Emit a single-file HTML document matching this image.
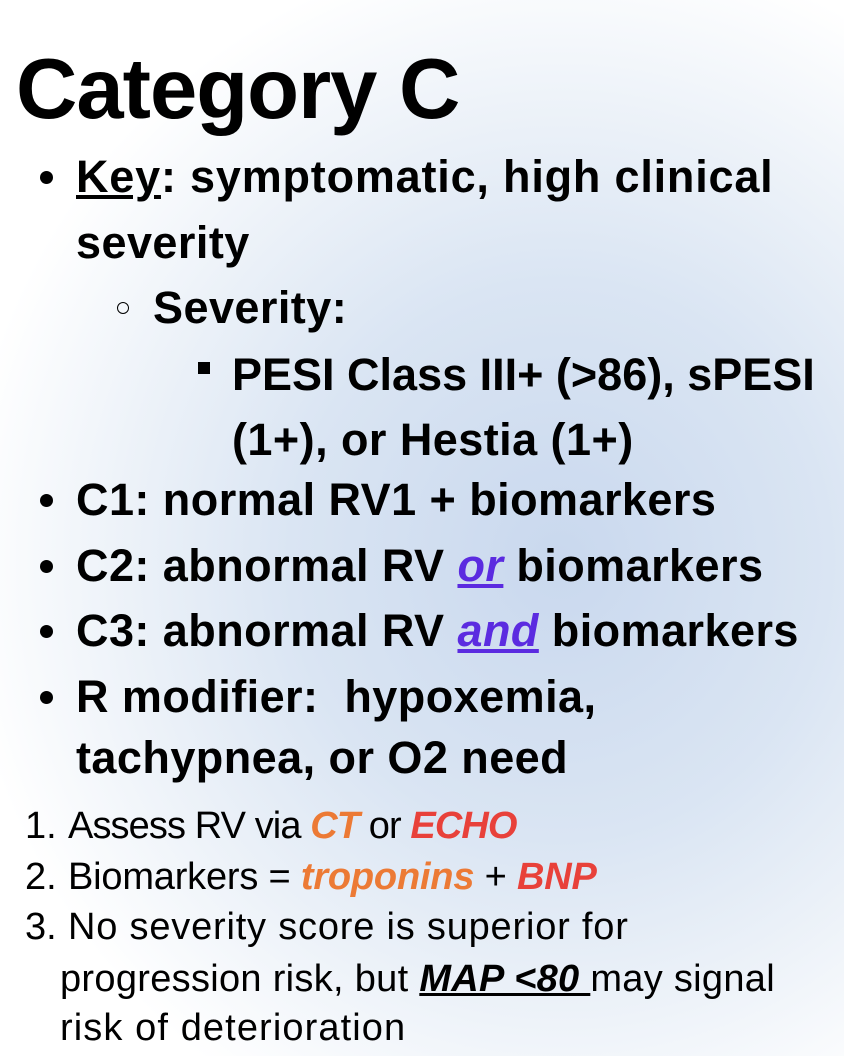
<!DOCTYPE html>
<html><head><meta charset="utf-8"><style>
html,body{margin:0;padding:0}
body{width:844px;height:1056px;overflow:hidden;position:relative;font-family:"Liberation Sans",sans-serif;color:#000;
background:radial-gradient(ellipse 600px 620px at 560px 560px,#c9d8ee 0%,#dae5f3 45%,#eef3f9 75%,#ffffff 100%);}
.l{position:absolute;white-space:nowrap;line-height:60px;height:60px}
.b{font-weight:bold;font-size:45px;letter-spacing:0.45px}
.dot{position:absolute;width:13px;height:13px;border-radius:50%;background:#000}
.n{position:absolute;white-space:nowrap;font-size:38px;line-height:44px}
.o{color:#ec7a35;font-weight:bold;font-style:italic}
.r{color:#e8413a;font-weight:bold;font-style:italic}
.p{color:#5b2be0;font-style:italic;text-decoration:underline}
</style></head><body>
<div class="l" style="left:16px;top:48px;height:84px;line-height:84px;font-size:85px;font-weight:bold;letter-spacing:-1px">Category C</div>

<div class="dot" style="left:40px;top:171px"></div>
<div class="l b" style="left:76px;top:147px;letter-spacing:0.8px"><u>Key</u>: symptomatic, high clinical</div>
<div class="l b" style="left:76px;top:213px">severity</div>
<div style="position:absolute;left:117px;top:302px;width:10px;height:10px;border:1.5px solid #000;border-radius:50%"></div>
<div class="l b" style="left:153px;top:278px">Severity:</div>
<div style="position:absolute;left:198px;top:362px;width:12px;height:12px;background:#000"></div>
<div class="l b" style="left:232px;top:345px;letter-spacing:0px">PESI Class III+ (&gt;86), sPESI</div>
<div class="l b" style="left:232px;top:410px">(1+), or Hestia (1+)</div>
<div class="dot" style="left:40px;top:494px"></div>
<div class="l b" style="left:76px;top:470px">C1: normal RV1 + biomarkers</div>
<div class="dot" style="left:40px;top:560px"></div>
<div class="l b" style="left:76px;top:536px">C2: abnormal RV <span class="p">or</span> biomarkers</div>
<div class="dot" style="left:40px;top:625px"></div>
<div class="l b" style="left:76px;top:601px">C3: abnormal RV <span class="p">and</span> biomarkers</div>
<div class="dot" style="left:40px;top:691px"></div>
<div class="l b" style="left:76px;top:667px">R modifier:&nbsp; hypoxemia,</div>
<div class="l b" style="left:76px;top:728px">tachypnea, or O2 need</div>

<div class="n" style="left:25px;top:804px">1.</div>
<div class="n" style="left:68px;top:804px;letter-spacing:-0.9px">Assess RV via <span class="o">CT</span> or <span class="r">ECHO</span></div>
<div class="n" style="left:25px;top:855px">2.</div>
<div class="n" style="left:68px;top:855px;letter-spacing:-0.2px">Biomarkers = <span class="o">troponins</span> + <span class="r">BNP</span></div>
<div class="n" style="left:25px;top:905px">3.</div>
<div class="n" style="left:68px;top:905px;letter-spacing:0.8px">No severity score is superior for</div>
<div class="n" style="left:60px;top:957px;letter-spacing:0.3px">progression risk, but <b><i><u>MAP &lt;80 </u></i></b>may signal</div>
<div class="n" style="left:60px;top:1006px;letter-spacing:1.1px">risk of deterioration</div>
</body></html>
